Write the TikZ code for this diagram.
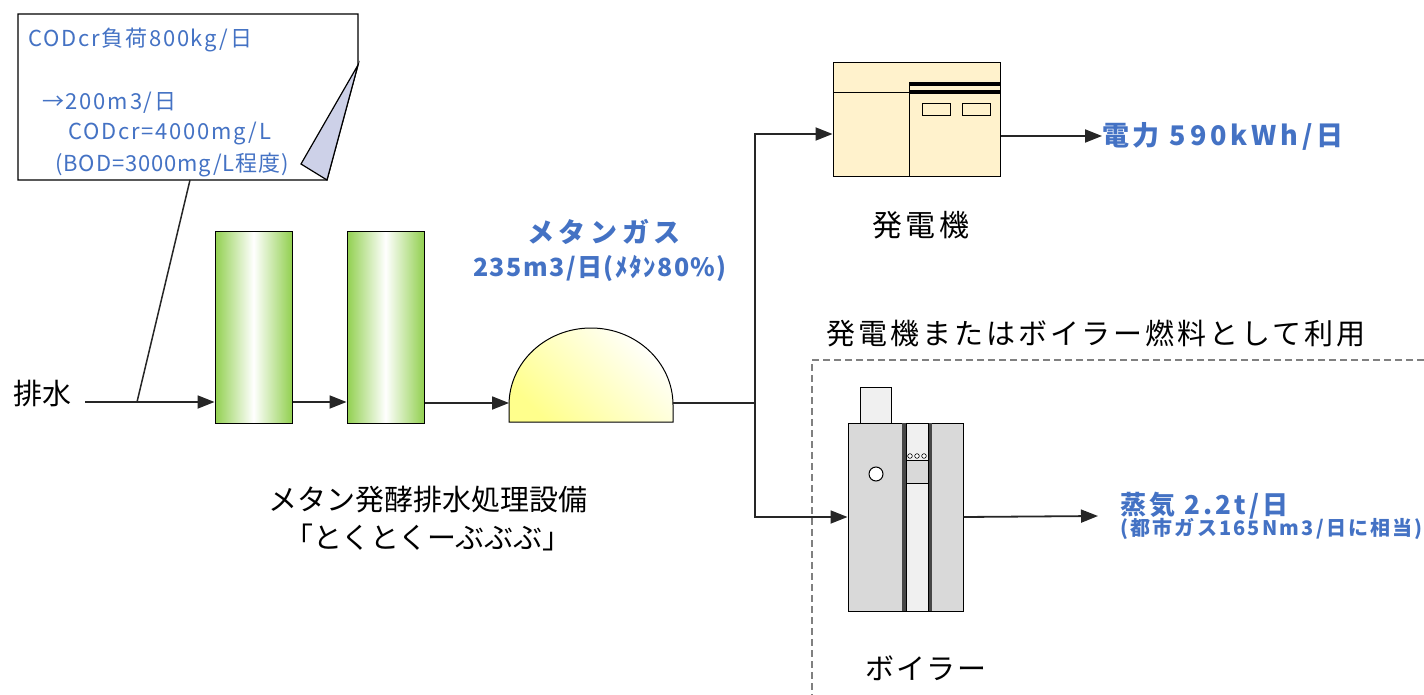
\documentclass[tikz,border=0pt]{standalone}
\usepackage{fontspec}
\setmainfont{Noto Sans CJK JP}
\usepackage{xcolor}
\usetikzlibrary{positioning,calc,arrows.meta}
\definecolor{textBlue}{HTML}{4472C4}
\definecolor{tankGreen}{HTML}{92D050}
\definecolor{domeYellow}{HTML}{FFFF8C}
\definecolor{genCream}{HTML}{FFF2CC}
\definecolor{boilGray}{HTML}{D9D9D9}
\definecolor{boilLight}{HTML}{F0F0F0}
\definecolor{foldLilac}{HTML}{CDD1E8}
\definecolor{lineDark}{HTML}{262626}
\newcommand{\spaced}[1]{\addfontfeatures{LetterSpace=#1}}
\tikzstyle{tank}    =[rectangle,draw,line width=1pt,minimum width=77pt,minimum height=191pt,
                      left color=tankGreen,right color=tankGreen,middle color=white]
\tikzstyle{genbox}  =[rectangle,draw,line width=1pt,fill=genCream,minimum width=167pt,minimum height=114pt]
\tikzstyle{boilbox} =[rectangle,draw,line width=1pt,fill=boilGray,minimum width=115pt,minimum height=188pt]
\tikzstyle{flow}    =[draw=lineDark,line width=1.8pt]
\tikzstyle{plainlbl}=[inner sep=0pt,font=\fontsize{29}{34}\selectfont]
\tikzstyle{memotext}=[inner sep=0pt,anchor=west,text=textBlue,font=\fontsize{22}{26}\selectfont\spaced{8}]
\tikzstyle{bluelbl} =[inner sep=0pt,text=textBlue,font=\bfseries\fontsize{27}{32}\selectfont]

\begin{document}
\begin{tikzpicture}[x=1pt,y=-1pt,>={Triangle[length=17pt,width=13pt]}]
  \useasboundingbox (0,0) rectangle (1424,695);

  % memo with folded corner
  \draw[line width=1.2pt,fill=white] (18,14) -- (358,14) -- (358,65) -- (327,180) -- (18,180) -- cycle;
  \draw[line width=1.2pt,fill=foldLilac] (358,65) -- (301,164) -- (327,180) -- cycle;
  \coordinate (memofoot) at (190,180);
  \node[memotext] (memo1) at (28,40)  {CODcr負荷800kg/日};
  \node[memotext] (memo2) at (42,103) {→200m3/日};
  \node[memotext] (memo3) at (68,134) {CODcr=4000mg/L};
  \node[memotext,font=\fontsize{22}{26}\selectfont\spaced{4}] (memo4) at (55,165) {(BOD=3000mg/L程度)};

  % treatment line
  \node[plainlbl] (haisui) at (42,393) {排水};
  \node[tank] (tank1) at (253.5,327.5) {};
  \node[tank] (tank2) at (385.5,327.5) {};
  \coordinate (inlet) at (85,402);
  \coordinate (tap) at (137,402);
  \node[plainlbl] (plant) at (428,500) {メタン発酵排水処理設備};
  \node[plainlbl] (nick) at (428,537) {「とくとくーぶぶぶ」};

  % gas holder
  \draw[line width=1pt,top color=white,bottom color=domeYellow,shading angle=-45]
    (509,422) -- (509,405) arc[start angle=180,end angle=0,x radius=82pt,y radius=77pt] -- (673,422) -- cycle;
  \coordinate (domein) at (509,403);
  \coordinate (domeout) at (673,403);
  \coordinate (split) at (755,403);
  \node[bluelbl,font=\bfseries\fontsize{27}{32}\selectfont\spaced{17}] (gas) at (604,232) {メタンガス};
  \node[bluelbl,font=\bfseries\fontsize{25}{30}\selectfont\spaced{6}] (gasrate) at (600,268) {235m3/日(ﾒﾀﾝ80\%)};

  % generator
  \node[genbox] (gen) at (916.5,120) {};
  \draw[line width=1pt] (833,93) -- (909,93);
  \draw[line width=1pt] (909,82) -- (909,177);
  \fill[black] (909,82) rectangle (1000,86);
  \fill[black] (909,90) rectangle (1000,94);
  \draw[line width=1pt,fill=genCream] (922,104) rectangle (950,116);
  \draw[line width=1pt,fill=genCream] (962,104) rectangle (990,116);
  \node[plainlbl,font=\fontsize{30}{34}\selectfont\spaced{12}] (genlbl) at (921,225) {発電機};
  \node[bluelbl,anchor=west,font=\bfseries\fontsize{27}{32}\selectfont\spaced{14}] (power) at (1102,136) {電力 590kWh/日};

  % fuel use area
  \draw[gray,line width=1.2pt,dash pattern=on 7pt off 4pt] (1424,360) -- (812,360) -- (812,695);
  \node[plainlbl,font=\fontsize{29}{34}\selectfont\spaced{10}] (fueluse) at (1096,333) {発電機またはボイラー燃料として利用};

  % boiler
  \draw[line width=1pt,fill=boilLight] (860,387) rectangle (891,423);
  \node[boilbox] (boiler) at (905.5,517) {};
  \fill[lineDark!85] (902,423) rectangle (906,611);
  \fill[lineDark!85] (928,423) rectangle (932,611);
  \draw[line width=0.8pt,fill=boilLight] (906,423) rectangle (928,611);
  \draw[line width=0.8pt,fill=boilGray] (906,460) rectangle (928,483);
  \foreach \cx in {910,917,924}
    \draw[line width=0.6pt,fill=white] (\cx,456) circle (2.3pt);
  \draw[line width=1pt,fill=white] (876,474) circle (7pt);
  \node[plainlbl,font=\fontsize{29}{34}\selectfont\spaced{6}] (boillbl) at (926,668) {ボイラー};
  \node[inner sep=0pt,anchor=west,text=textBlue,align=left] (steam) at (1120,516)
    {{\bfseries\fontsize{26}{31}\selectfont\spaced{12}蒸気 2.2t/日}\\[-2pt]{\bfseries\fontsize{20}{24}\selectfont\spaced{11}(都市ガス165Nm3/日に相当)}};

  % connectors
  \draw[flow,->] (inlet) -- (inlet -| tank1.west);
  \draw[flow,line width=1.5pt] (memofoot) -- (tap);
  \draw[flow,->] (tank1.east |- inlet) -- (tank2.west |- inlet);
  \draw[flow,->] (tank2.east |- domein) -- (domein);
  \draw[flow] (domeout) -- (split);
  \draw[flow,->] (split) |- ($(gen.west)+(0,14)$);
  \draw[flow,->] (split) |- (boiler.west);
  \draw[flow,->] (gen.east |- power) -- (power.west);
  \draw[flow,->] (boiler.east) -- ($(steam.west)+(-22,0)$);
\end{tikzpicture}
\end{document}
